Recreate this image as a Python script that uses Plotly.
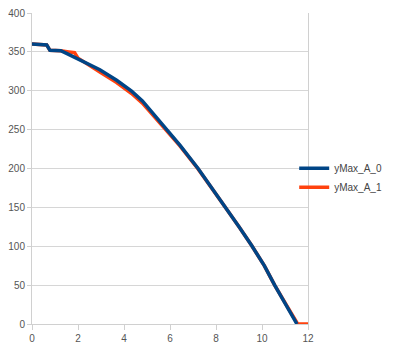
import plotly.graph_objects as go

# Series yMax_A_0 (blue)
x_a0 = [0, 0.3, 0.64, 0.78, 1.25, 1.5, 1.94, 2.45, 2.95, 3.68, 4.33, 4.8, 5.3, 5.85,
        6.43, 7.22, 7.8, 8.38, 9.0, 9.55, 10.1, 10.55, 11.05, 11.52]
y_a0 = [360, 359.5, 359, 352, 351.5, 348, 342, 335, 327, 313.5, 299.5, 287, 270, 250,
        230, 200, 176, 151, 125, 101, 75, 50, 25, 0]

# Series yMax_A_1 (orange)
x_a1 = [0, 0.3, 0.64, 0.78, 1.25, 1.6, 1.85, 2.0, 2.45, 2.95, 3.68, 4.33, 4.8, 5.3,
        5.85, 6.43, 7.22, 7.8, 8.38, 9.0, 9.55, 10.1, 10.55, 11.05, 11.55, 12]
y_a1 = [360, 359.5, 359, 352, 351.5, 350, 349, 342, 333, 324, 310.5, 296.5, 284, 267,
        248, 229, 199.5, 176, 151, 125, 101, 75, 50, 25, 0, 0]

x_ticks = [0, 2, 4, 6, 8, 10, 12]
y_ticks = [0, 50, 100, 150, 200, 250, 300, 350, 400]

fig = go.Figure()
fig.add_trace(go.Scatter(x=x_a1, y=y_a1, mode="lines", name="yMax_A_1",
                         line=dict(color="#ff420e", width=3.5)))
fig.add_trace(go.Scatter(x=x_a0, y=y_a0, mode="lines", name="yMax_A_0",
                         line=dict(color="#004586", width=3.5)))

fig.update_layout(
    width=392, height=354,
    margin=dict(l=24, r=92, t=5.3, b=38, autoexpand=False),
    paper_bgcolor="white", plot_bgcolor="white",
    font=dict(family="Liberation Sans, Arial, sans-serif", size=10, color="#555555"),
    showlegend=True,
    legend=dict(x=0.95, xanchor="left", y=0.47, yanchor="middle",
                traceorder="reversed", itemwidth=30,
                font=dict(size=10, color="#444444"),
                bgcolor="rgba(0,0,0,0)", tracegroupgap=0),
)
fig.update_xaxes(range=[0, 12], tickvals=x_ticks, showgrid=False, zeroline=False,
                 showline=True, linecolor="#d0d0d0", linewidth=1, automargin=False,
                 ticks="outside", ticklen=5, tickcolor="#d0d0d0",
                 ticklabeloverflow="allow",
                 tickfont=dict(size=10, color="#555555"))
fig.update_yaxes(range=[0, 400], tickvals=y_ticks, showgrid=True, gridcolor="#d6d6d6",
                 zeroline=False, showline=True, mirror=True, linecolor="#d0d0d0",
                 linewidth=1, ticks="outside", ticklen=4, tickcolor="#d0d0d0",
                 automargin=False, ticklabeloverflow="allow",
                 tickfont=dict(size=10, color="#555555"))

fig.write_html("out.html")
